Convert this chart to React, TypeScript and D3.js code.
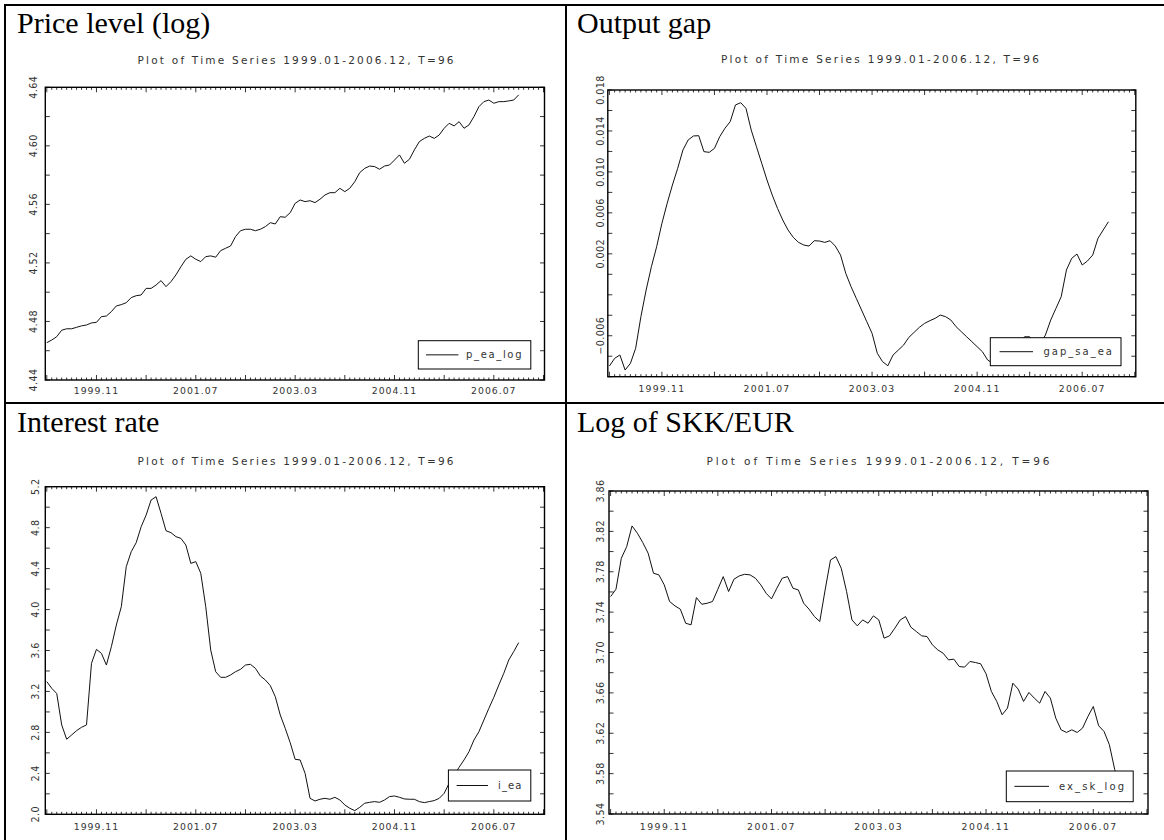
import React from 'react';
import * as d3 from 'd3';

// ---------- data ----------
const xTickIdx = [10, 30, 50, 70, 90];
const xTickLabels = ['1999.11', '2001.07', '2003.03', '2004.11', '2006.07'];
const subtitle = 'Plot of Time Series 1999.01-2006.12, T=96';

const titles = ['Price level (log)', 'Output gap', 'Interest rate', 'Log of SKK/EUR'];
const seriesNames = ['p_ea_log', 'gap_sa_ea', 'i_ea', 'ex_sk_log'];

const pEaLog = [
  4.4655, 4.4673, 4.4696, 4.474, 4.475, 4.475, 4.476, 4.477, 4.4776, 4.479,
  4.4794, 4.4833, 4.4837, 4.4867, 4.4906, 4.4915, 4.4928, 4.4963, 4.4976, 4.4981,
  4.5026, 4.5026, 4.5049, 4.5079, 4.5038, 4.5072, 4.5118, 4.5174, 4.5225, 4.5248,
  4.5225, 4.5209, 4.5243, 4.5248, 4.5239, 4.5284, 4.530, 4.5316, 4.538, 4.542,
  4.543, 4.543, 4.542, 4.543, 4.5448, 4.5475, 4.5466, 4.5516, 4.5512, 4.5543,
  4.5607, 4.563, 4.5619, 4.5625, 4.5612, 4.5635, 4.5664, 4.568, 4.568, 4.571,
  4.5687, 4.571, 4.5755, 4.5817, 4.5846, 4.5862, 4.5858, 4.584, 4.5862, 4.5869,
  4.5903, 4.5938, 4.5881, 4.5908, 4.5972, 4.6029, 4.6051, 4.6067, 4.6051, 4.6074,
  4.612, 4.6154, 4.6136, 4.6165, 4.612, 4.6143, 4.62, 4.6268, 4.6302, 4.6313,
  4.6291, 4.6302, 4.6302, 4.6307, 4.6313, 4.6348,
];

const gapSaEa = [
  -0.00896, -0.00821, -0.00788, -0.00935, -0.0087, -0.00723, -0.00414, -0.00153, 0.00074, 0.0027,
  0.00498, 0.00693, 0.00872, 0.01035, 0.01214, 0.01312, 0.01351, 0.01354, 0.01198, 0.01191,
  0.0123, 0.01344, 0.01426, 0.01491, 0.01654, 0.01676, 0.01621, 0.01409, 0.01246, 0.01084,
  0.00921, 0.00774, 0.00644, 0.0053, 0.00433, 0.00361, 0.00312, 0.00286, 0.00276, 0.00328,
  0.00325, 0.00312, 0.00328, 0.00276, 0.00188, 0.00009, -0.00121, -0.00235, -0.00349, -0.00463,
  -0.00577, -0.00772, -0.00853, -0.00893, -0.00788, -0.0074, -0.00691, -0.00616, -0.00567, -0.00518,
  -0.00479, -0.00453, -0.0043, -0.00398, -0.00414, -0.00447, -0.00512, -0.00561, -0.0061, -0.00658,
  -0.00707, -0.00756, -0.00837, -0.0087, -0.0087, -0.0082, -0.0077, -0.0072, -0.0067, -0.0061,
  -0.0061, -0.0066, -0.0068, -0.00593, -0.00447, -0.00333, -0.00219, 0.00042, 0.00156, 0.00198,
  0.00091, 0.0013, 0.00188, 0.00351, 0.00433, 0.00514,
];

const iEa = [
  3.296, 3.23, 3.18, 2.873, 2.733, 2.775, 2.817, 2.85, 2.873, 3.475,
  3.611, 3.572, 3.458, 3.637, 3.849, 4.028, 4.419, 4.565, 4.653, 4.809,
  4.923, 5.07, 5.102, 4.94, 4.77, 4.751, 4.712, 4.695, 4.63, 4.451,
  4.468, 4.354, 4.028, 3.605, 3.393, 3.338, 3.338, 3.361, 3.393, 3.416,
  3.458, 3.465, 3.426, 3.351, 3.312, 3.257, 3.149, 2.97, 2.84, 2.7,
  2.537, 2.531, 2.4, 2.156, 2.13, 2.147, 2.156, 2.147, 2.166, 2.14,
  2.091, 2.059, 2.036, 2.068, 2.108, 2.117, 2.124, 2.117, 2.14, 2.173,
  2.179, 2.166, 2.15, 2.147, 2.147, 2.124, 2.114, 2.124, 2.134, 2.156,
  2.205, 2.303, 2.38, 2.459, 2.531, 2.612, 2.726, 2.807, 2.921, 3.035,
  3.143, 3.263, 3.377, 3.507, 3.589, 3.677,
];

const exSkLog = [
  3.7554, 3.7627, 3.7934, 3.8049, 3.8254, 3.8181, 3.8089, 3.7983, 3.7785, 3.7769,
  3.767, 3.7505, 3.7462, 3.7429, 3.729, 3.7274, 3.7544, 3.7478, 3.7488, 3.7505,
  3.7627, 3.7752, 3.7604, 3.7726, 3.7759, 3.7775, 3.7769, 3.7736, 3.767, 3.7587,
  3.7531, 3.7637, 3.7736, 3.7752, 3.7637, 3.762, 3.7488, 3.7429, 3.7356, 3.7307,
  3.762, 3.7917, 3.795, 3.7835, 3.7604, 3.7323, 3.7264, 3.7323, 3.729, 3.7363,
  3.7323, 3.7142, 3.7165, 3.7241, 3.7323, 3.7356, 3.725, 3.7208, 3.7165, 3.7158,
  3.7076, 3.7026, 3.6993, 3.6927, 3.6934, 3.6861, 3.6855, 3.6911, 3.6901, 3.6888,
  3.6789, 3.6614, 3.6515, 3.6383, 3.6449, 3.6696, 3.6637, 3.6515, 3.6604, 3.6548,
  3.6498, 3.6614, 3.6548, 3.635, 3.6234, 3.6208, 3.6234, 3.6208, 3.6251, 3.6366,
  3.6465, 3.6274, 3.6218, 3.6086, 3.5839, 3.571,
];

const yLabelsP = ['4.44', '4.48', '4.52', '4.56', '4.60', '4.64'];
const yLabelsGap = ['\u22120.006', '0.002', '0.006', '0.010', '0.014', '0.018'];
const yLabelsI = ['2.0', '2.4', '2.8', '3.2', '3.6', '4.0', '4.4', '4.8', '5.2'];
const yLabelsEx = ['3.54', '3.58', '3.62', '3.66', '3.70', '3.74', '3.78', '3.82', '3.86'];

const yDomains: [number, number][] = [[4.44, 4.64], [-0.010, 0.018], [2.0, 5.2], [3.54, 3.86]];
const yTickSteps = [0.02, 0.002, 0.2, 0.02];

const allSeries = [pEaLog, gapSaEa, iEa, exSkLog];
const allYLabels = [yLabelsP, yLabelsGap, yLabelsI, yLabelsEx];

// ---------- layout ----------
const layout = [
  { x0: 45.3, x1: 544.5, y0: 87.3, y1: 380, lblX: 37, xLblY: 394, subCx: 295.5, subY: 64, subLen: 316,
    leg: { x0: 418.3, x1: 530.8, y0: 340.7, y1: 369, l0: 426, l1: 458.4, tx: 466, tlen: 55.5 }, tx: 17, ty: 33, ls: 1 },
  { x0: 607.8, x1: 1135.8, y0: 90, y1: 376.7, lblX: 603.5, xLblY: 392, subCx: 880, subY: 63, subLen: 318,
    leg: { x0: 990.3, x1: 1121, y0: 337.7, y1: 365.7, l0: 999.6, l1: 1033, tx: 1043.4, tlen: 68.6 }, tx: 577, ty: 33, ls: 1.2 },
  { x0: 45.3, x1: 544.5, y0: 486.7, y1: 814.3, lblX: 39, xLblY: 830, subCx: 295.5, subY: 465, subLen: 316,
    leg: { x0: 448.4, x1: 530.8, y0: 770, y1: 801, l0: 456.6, l1: 488, tx: 498, tlen: 23.5 }, tx: 17, ty: 432, ls: 1 },
  { x0: 609, x1: 1148, y0: 491, y1: 814, lblX: 604, xLblY: 830, subCx: 878, subY: 465, subLen: 343,
    leg: { x0: 1006.3, x1: 1133.2, y0: 771, y1: 801.7, l0: 1014.4, l1: 1049, tx: 1059, tlen: 65 }, tx: 577, ty: 432, ls: 1.5 },
];

const smallFont = "'DejaVu Sans', sans-serif";
const smallFill = '#333';

function Panel({ k }: { k: number }) {
  const L = layout[k];
  const data = allSeries[k];
  const dom = yDomains[k];
  const x = d3.scaleLinear().domain([-0.3, 100.2]).range([L.x0, L.x1]);
  const y = d3.scaleLinear().domain(dom).range([L.y1, L.y0]);
  const line = d3.line<number>().x((_, i) => x(i)).y((d) => y(d));
  const nY = Math.round((dom[1] - dom[0]) / yTickSteps[k]);
  const yTicks = d3.range(nY + 1).map((j) => dom[0] + j * yTickSteps[k]);
  const xMinor = d3.range(0, 101);
  const leg = L.leg;
  return (
    <g>
      <text x={L.tx} y={L.ty} fontFamily="'Liberation Serif', 'Times New Roman', serif" fontSize={30} fill="#000">
        {titles[k]}
      </text>
      <text x={L.subCx} y={L.subY} textAnchor="middle" fontFamily={smallFont} fontSize={10.5} fill={smallFill}
        textLength={L.subLen} lengthAdjust="spacing">
        {subtitle}
      </text>
      <defs>
        <clipPath id={`clip${k}`}>
          <rect x={L.x0} y={L.y0} width={L.x1 - L.x0} height={L.y1 - L.y0} />
        </clipPath>
      </defs>
      <path d={line(data) || ''} fill="none" stroke="#111" strokeWidth={1} clipPath={`url(#clip${k})`} />
      {xMinor.map((i) => {
        const len = i % 10 === 0 ? 5 : 2.5;
        const xx = x(i);
        return (
          <g key={'xt' + i}>
            <line x1={xx} x2={xx} y1={L.y1} y2={L.y1 - len} stroke="#000" strokeWidth={0.8} />
            <line x1={xx} x2={xx} y1={L.y0} y2={L.y0 + len} stroke="#000" strokeWidth={0.8} />
          </g>
        );
      })}
      {yTicks.map((v, j) => (
        <g key={'yt' + j}>
          <line x1={L.x0} x2={L.x0 + 4.5} y1={y(v)} y2={y(v)} stroke="#000" strokeWidth={0.8} />
          <line x1={L.x1} x2={L.x1 - 4.5} y1={y(v)} y2={y(v)} stroke="#000" strokeWidth={0.8} />
        </g>
      ))}
      <rect x={L.x0} y={L.y0} width={L.x1 - L.x0} height={L.y1 - L.y0} fill="none" stroke="#000" strokeWidth={1.4} />
      {xTickIdx.map((i, j) => (
        <text key={'xl' + j} x={x(i)} y={L.xLblY} textAnchor="middle" fontFamily={smallFont} fontSize={9.3}
          letterSpacing={L.ls} fill={smallFill}>
          {xTickLabels[j]}
        </text>
      ))}
      {allYLabels[k].map((s, j) => {
        const v = +s.replace('\u2212', '-');
        return (
          <text key={'yl' + j} transform={`translate(${L.lblX},${y(v)}) rotate(-90)`} textAnchor="middle"
            fontFamily={smallFont} fontSize={9.6} letterSpacing={0.4} fill={smallFill}>
            {s}
          </text>
        );
      })}
      <rect x={leg.x0} y={leg.y0} width={leg.x1 - leg.x0} height={leg.y1 - leg.y0} fill="#fff" stroke="#000" strokeWidth={1} />
      <line x1={leg.l0} x2={leg.l1} y1={(leg.y0 + leg.y1) / 2} y2={(leg.y0 + leg.y1) / 2} stroke="#111" strokeWidth={1} />
      <text x={leg.tx} y={(leg.y0 + leg.y1) / 2 + 3.5} fontFamily={smallFont} fontSize={10} fill={smallFill}
        textLength={leg.tlen} lengthAdjust="spacing">
        {seriesNames[k]}
      </text>
    </g>
  );
}

export default function App() {
  const W = 1164;
  const H = 840;
  return (
    <svg width={W} height={H} style={{ position: 'absolute', left: 0, top: 0, background: '#fff' }}>
      <rect x={0} y={0} width={W} height={H} fill="#fff" />
      {[0, 1, 2, 3].map((k) => (
        <Panel key={k} k={k} />
      ))}
      <line x1={5} x2={W} y1={5} y2={5} stroke="#000" strokeWidth={2} />
      <line x1={5} x2={W} y1={403} y2={403} stroke="#000" strokeWidth={2} />
      <line x1={5} x2={5} y1={4} y2={H} stroke="#000" strokeWidth={2} />
      <line x1={566} x2={566} y1={4} y2={H} stroke="#000" strokeWidth={2} />
    </svg>
  );
}
